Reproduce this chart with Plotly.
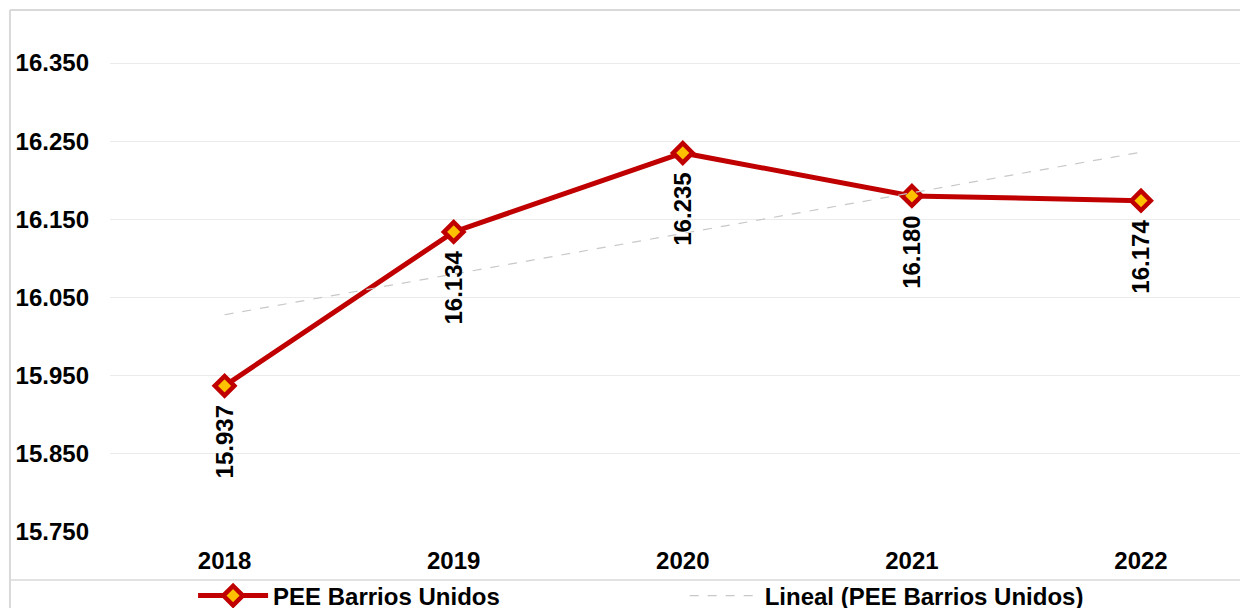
import numpy as np
import plotly.graph_objects as go

years = ["2018", "2019", "2020", "2021", "2022"]
values = [15937, 16134, 16235, 16180, 16174]
y_ticks = [15750, 15850, 15950, 16050, 16150, 16250, 16350]
series_name = "PEE Barrios Unidos"
trend_name = "Lineal (PEE Barrios Unidos)"

xs = list(range(len(years)))
coef = np.polyfit(xs, values, 1)
trend = [coef[0] * x + coef[1] for x in xs]

RED = "#C00000"
FONT = "Liberation Sans, Arial, sans-serif"
BOLD = dict(family=FONT, size=24, color="black", weight="bold")

fig = go.Figure()
fig.add_trace(go.Scatter(
    x=xs, y=values, name=series_name, mode="lines+markers",
    line=dict(color=RED, width=5),
    marker=dict(symbol="diamond", size=15, color="#FFC000",
                line=dict(color=RED, width=4.5)),
    legend="legend",
))
fig.add_trace(go.Scatter(
    x=xs, y=trend, name=trend_name, mode="lines",
    line=dict(color="#C8C8C8", width=1.2, dash="dash"),
    legend="legend2",
))

for x, v in zip(xs, values):
    fig.add_annotation(
        x=x, y=v, xref="x", yref="y", text=f"{v:,}".replace(",", "."),
        showarrow=False, textangle=-90, yanchor="middle", xanchor="center",
        yshift=-56, font=BOLD,
    )

# chart frame lines
frame = dict(color="#D9D9D9", width=2)
fig.add_shape(type="line", xref="paper", yref="paper", x0=-0.0879, x1=-0.0879,
              y0=1.0276, y1=-0.2, line=frame)
fig.add_shape(type="line", xref="paper", yref="paper", x0=-0.0879, x1=1.01,
              y0=1.0276, y1=1.0276, line=frame)
fig.add_shape(type="line", xref="paper", yref="paper", x0=-0.0879, x1=1.01,
              y0=-0.0945, y1=-0.0945, line=dict(color="#D9D9D9", width=1.5))

leg_common = dict(orientation="h", yanchor="middle", y=-0.126, xanchor="left",
                  font=BOLD, bgcolor="rgba(0,0,0,0)", itemwidth=70)

fig.update_layout(
    width=1240, height=600,
    margin=dict(l=102, r=0, t=16, b=76, autoexpand=False),
    paper_bgcolor="white", plot_bgcolor="white",
    separators=",.",
    font=dict(family=FONT, size=24, color="black"),
    showlegend=True,
    legend=dict(x=0.073, **leg_common),
    legend2=dict(x=0.505, **leg_common),
    xaxis=dict(range=[-0.5, 4.467], tickvals=xs, ticktext=years,
               showgrid=False, zeroline=False, showline=False, ticks="",
               tickfont=BOLD, ticklabelstandoff=12),
    yaxis=dict(range=[15750, 16400], tickvals=y_ticks, tickformat=",d",
               showgrid=True, gridcolor="#EBEBEB", gridwidth=1,
               zeroline=False, showline=False, ticks="",
               tickfont=BOLD, ticklabelstandoff=20),
)

fig.write_html("out.html")
